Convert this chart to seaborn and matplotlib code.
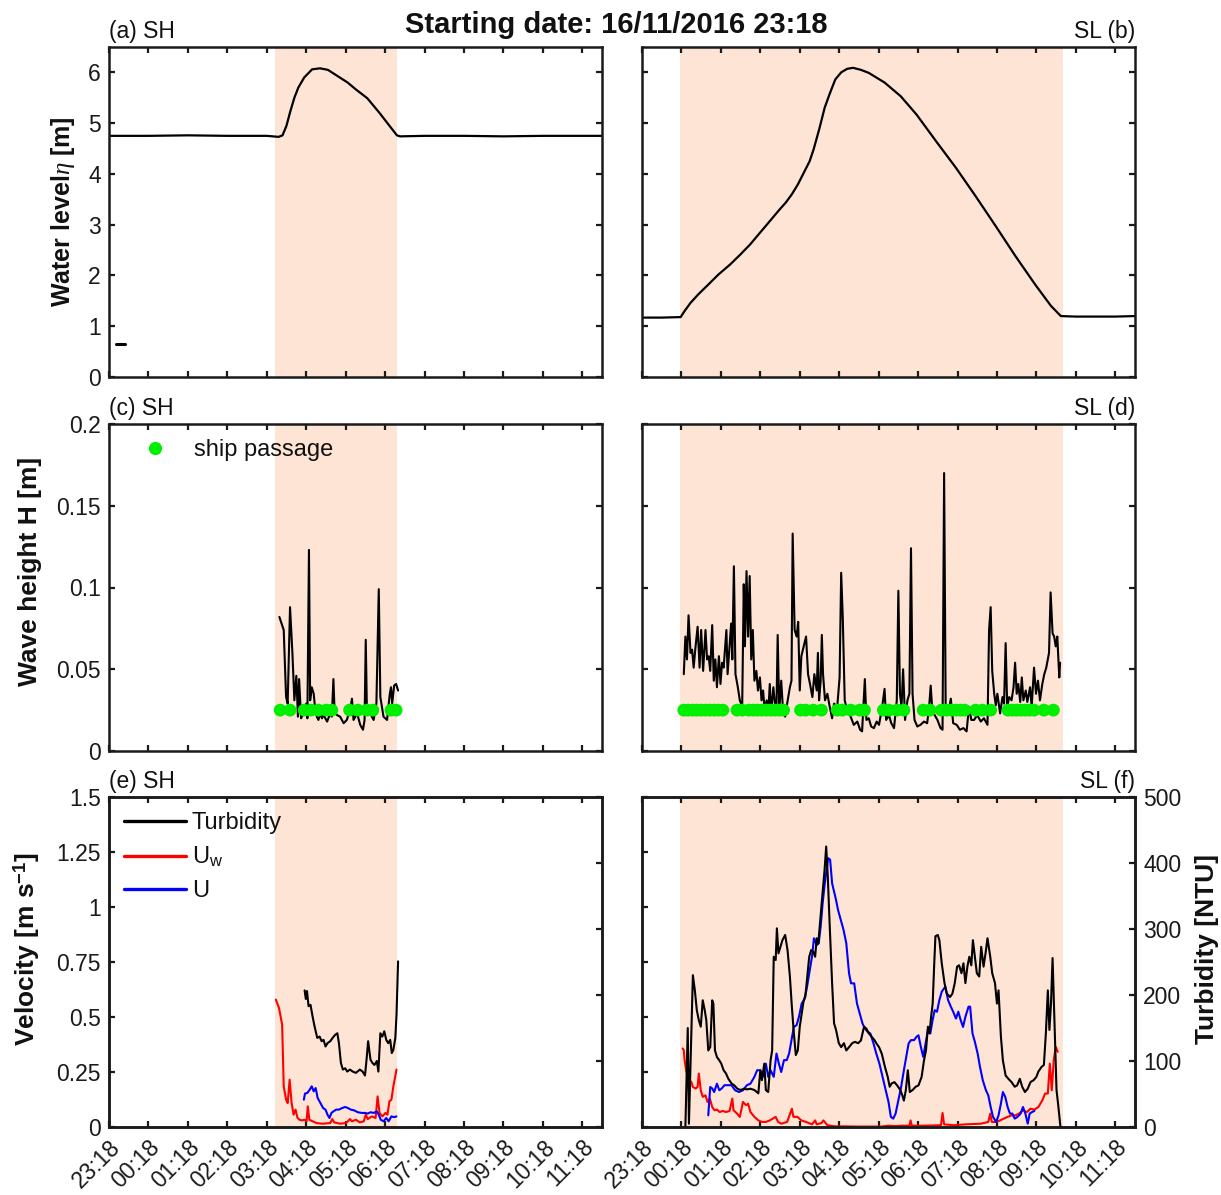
import matplotlib
matplotlib.use("Agg")
import matplotlib.pyplot as plt
from matplotlib.lines import Line2D
import numpy as np
import pandas as pd
import seaborn as sns

# ---------------------------------------------------------------------------
# Time axis: hours elapsed since 16/11/2016 23:18
# ---------------------------------------------------------------------------
hour_ticks = list(range(13))
hour_labels = ["23:18", "00:18", "01:18", "02:18", "03:18", "04:18", "05:18",
               "06:18", "07:18", "08:18", "09:18", "10:18", "11:18"]
t_end = 12.5

# flooding windows (shaded)
sh_window = [4.22, 7.31]
sl_window = [0.97, 10.68]

# ---------------------------------------------------------------------------
# (a) water level, SH
# ---------------------------------------------------------------------------
wl_sh_t = [0, 1, 2, 3, 4, 4.3, 4.4, 4.5, 4.6, 4.7, 4.8, 4.95, 5.15, 5.35, 5.55,
           5.85, 6.05, 6.25, 6.55, 6.85, 7.15, 7.3, 7.38, 8, 9, 10, 11, 12.5]
wl_sh = [4.75, 4.75, 4.76, 4.75, 4.75, 4.73, 4.76, 4.95, 5.24, 5.5, 5.7, 5.9,
         6.06, 6.08, 6.05, 5.9, 5.8, 5.67, 5.49, 5.21, 4.91, 4.76, 4.74, 4.75,
         4.75, 4.74, 4.75, 4.75]
dash_t = [0.18, 0.40]
dash_y = [0.645, 0.645]

# (b) water level, SL
wl_sl_t = [0, 0.5, 0.98, 1.08, 1.23, 1.43, 1.68, 1.94, 2.24, 2.49, 2.74, 2.99,
           3.24, 3.49, 3.65, 3.8, 3.95, 4.1, 4.25, 4.35, 4.5, 4.63, 4.75, 4.9,
           5.05, 5.2, 5.35, 5.55, 5.75, 6.15, 6.56, 6.96, 7.46, 7.96, 8.46,
           8.97, 9.47, 9.97, 10.37, 10.62, 11, 12, 12.5]
wl_sl = [1.17, 1.17, 1.18, 1.30, 1.46, 1.63, 1.82, 2.02, 2.22, 2.41, 2.61,
         2.84, 3.07, 3.30, 3.44, 3.60, 3.79, 4.02, 4.25, 4.48, 4.90, 5.30,
         5.56, 5.86, 6.00, 6.07, 6.09, 6.05, 5.99, 5.80, 5.53, 5.17, 4.64,
         4.12, 3.56, 2.97, 2.38, 1.82, 1.40, 1.20, 1.19, 1.19, 1.20]

# ---------------------------------------------------------------------------
# (c) wave height, SH
# ---------------------------------------------------------------------------
wh_sh_t = [4.32, 4.43, 4.49, 4.53, 4.59, 4.65, 4.70, 4.75, 4.79, 4.82, 4.87,
           4.93, 5.00, 5.03, 5.07, 5.10, 5.14, 5.19, 5.23, 5.27, 5.31, 5.36,
           5.40, 5.44, 5.53, 5.61, 5.65, 5.69, 5.72, 5.78, 5.86, 5.95, 6.03,
           6.12, 6.16, 6.20, 6.29, 6.37, 6.44, 6.48, 6.51, 6.54, 6.62, 6.71,
           6.78, 6.84, 6.88, 6.96, 7.05, 7.12, 7.15, 7.18, 7.23, 7.28, 7.33]
wh_sh = [0.082, 0.074, 0.033, 0.029, 0.088, 0.060, 0.031, 0.046, 0.021, 0.044,
         0.020, 0.023, 0.029, 0.020, 0.123, 0.031, 0.039, 0.035, 0.025, 0.021,
         0.019, 0.023, 0.020, 0.022, 0.018, 0.023, 0.021, 0.044, 0.024, 0.022,
         0.021, 0.017, 0.019, 0.026, 0.032, 0.019, 0.023, 0.016, 0.013, 0.019,
         0.068, 0.023, 0.023, 0.019, 0.029, 0.099, 0.033, 0.021, 0.019, 0.035,
         0.039, 0.029, 0.040, 0.041, 0.037]
ship_sh_t = [4.34, 4.59, 4.95, 5.12, 5.31, 5.51, 5.65, 6.10, 6.31, 6.54, 6.69,
             7.15, 7.28]

# (d) wave height, SL
wh_sl_t = [1.06, 1.10, 1.14, 1.18, 1.23, 1.27, 1.31, 1.35, 1.41, 1.46, 1.50,
           1.55, 1.61, 1.65, 1.69, 1.73, 1.78, 1.82, 1.86, 1.90, 1.95, 1.99,
           2.03, 2.07, 2.14, 2.17, 2.23, 2.26, 2.29, 2.33, 2.37, 2.43, 2.48,
           2.54, 2.58, 2.61, 2.65, 2.69, 2.73, 2.77, 2.81, 2.85, 2.90, 2.94,
           2.99, 3.03, 3.07, 3.11, 3.16, 3.20, 3.24, 3.27, 3.33, 3.37, 3.41,
           3.44, 3.48, 3.53, 3.58, 3.63, 3.68, 3.75, 3.79, 3.82, 3.87, 3.92,
           3.96, 4.00, 4.04, 4.10, 4.16, 4.21, 4.26, 4.32, 4.37, 4.43, 4.46,
           4.49, 4.53, 4.56, 4.59, 4.64, 4.70, 4.76, 4.82, 4.87, 4.95, 5.01,
           5.05, 5.09, 5.14, 5.20, 5.29, 5.37, 5.46, 5.53, 5.58, 5.65, 5.69,
           5.75, 5.81, 5.88, 5.95, 6.01, 6.09, 6.15, 6.19, 6.26, 6.32, 6.39,
           6.46, 6.50, 6.54, 6.58, 6.62, 6.67, 6.73, 6.78, 6.82, 6.86, 6.91,
           6.98, 7.06, 7.15, 7.23, 7.28, 7.32, 7.36, 7.42, 7.49, 7.57, 7.62,
           7.66, 7.70, 7.76, 7.83, 7.89, 7.98, 8.06, 8.15, 8.23, 8.29, 8.35,
           8.42, 8.50, 8.59, 8.67, 8.76, 8.80, 8.84, 8.88, 8.93, 8.97, 9.01,
           9.08, 9.14, 9.18, 9.22, 9.26, 9.31, 9.37, 9.42, 9.46, 9.50, 9.54,
           9.59, 9.63, 9.67, 9.73, 9.77, 9.84, 9.88, 9.94, 9.99, 10.04, 10.09,
           10.15, 10.20, 10.25, 10.28, 10.32, 10.36, 10.41, 10.45, 10.49,
           10.53, 10.58, 10.60]
wh_sl = [0.047, 0.070, 0.056, 0.083, 0.060, 0.062, 0.051, 0.062, 0.076, 0.051,
         0.074, 0.049, 0.074, 0.056, 0.058, 0.049, 0.077, 0.043, 0.056, 0.039,
         0.058, 0.041, 0.054, 0.051, 0.074, 0.047, 0.068, 0.078, 0.056, 0.113,
         0.047, 0.039, 0.031, 0.027, 0.102, 0.064, 0.110, 0.070, 0.107, 0.056,
         0.074, 0.043, 0.049, 0.037, 0.045, 0.031, 0.037, 0.025, 0.031, 0.023,
         0.041, 0.023, 0.039, 0.029, 0.027, 0.071, 0.025, 0.043, 0.023, 0.021,
         0.029, 0.039, 0.043, 0.133, 0.074, 0.070, 0.079, 0.037, 0.058, 0.064,
         0.070, 0.047, 0.041, 0.033, 0.047, 0.037, 0.060, 0.031, 0.043, 0.071,
         0.047, 0.031, 0.035, 0.027, 0.020, 0.029, 0.027, 0.045, 0.109, 0.082,
         0.031, 0.025, 0.021, 0.016, 0.018, 0.013, 0.012, 0.044, 0.019, 0.020,
         0.015, 0.014, 0.018, 0.016, 0.027, 0.038, 0.019, 0.022, 0.017, 0.014,
         0.031, 0.098, 0.035, 0.027, 0.050, 0.019, 0.031, 0.035, 0.124, 0.035,
         0.019, 0.015, 0.016, 0.018, 0.017, 0.027, 0.040, 0.025, 0.022, 0.019,
         0.014, 0.013, 0.170, 0.025, 0.022, 0.032, 0.017, 0.016, 0.013, 0.014,
         0.012, 0.027, 0.019, 0.019, 0.022, 0.018, 0.020, 0.016, 0.074, 0.088,
         0.049, 0.035, 0.028, 0.035, 0.023, 0.033, 0.029, 0.066, 0.027, 0.033,
         0.031, 0.039, 0.054, 0.035, 0.041, 0.030, 0.045, 0.031, 0.037, 0.030,
         0.039, 0.027, 0.051, 0.035, 0.043, 0.031, 0.041, 0.047, 0.051, 0.055,
         0.060, 0.097, 0.072, 0.070, 0.064, 0.070, 0.045, 0.054]
ship_sl_t = [1.06, 1.17, 1.28, 1.39, 1.50, 1.61, 1.72, 1.83, 1.94, 2.05,
             2.41, 2.54, 2.71, 2.82, 2.93, 3.04, 3.15, 3.26, 3.37, 3.48, 3.59,
             4.02, 4.15, 4.34, 4.55,
             4.95, 5.08, 5.29, 5.52, 5.64,
             6.12, 6.26, 6.47, 6.64,
             7.13, 7.30,
             7.59, 7.72, 7.84, 7.97, 8.08, 8.18,
             8.46, 8.63, 8.84,
             9.28, 9.39, 9.50, 9.61, 9.72, 9.83, 9.94, 10.19, 10.43]
ship_level = 0.025

# ---------------------------------------------------------------------------
# (e) velocities and turbidity, SH
# ---------------------------------------------------------------------------
turb_sh_t = [4.96, 4.99, 5.02, 5.06, 5.11, 5.16, 5.21, 5.28, 5.34, 5.39, 5.44,
             5.49, 5.54, 5.61, 5.67, 5.74, 5.79, 5.83, 5.88, 5.93, 5.99, 6.04,
             6.11, 6.18, 6.26, 6.36, 6.43, 6.49, 6.53, 6.57, 6.63, 6.68, 6.73,
             6.79, 6.83, 6.88, 6.93, 6.98, 7.03, 7.08, 7.13, 7.17, 7.21, 7.26,
             7.29, 7.33]
turb_sh = [207, 194, 206, 183, 185, 168, 153, 135, 137, 130, 132, 122, 127,
           130, 135, 140, 142, 127, 97, 87, 89, 84, 87, 84, 82, 87, 84, 78,
           102, 130, 102, 97, 94, 100, 84, 142, 137, 145, 132, 127, 132, 112,
           117, 135, 170, 251]
uw_sh_t = [4.23, 4.31, 4.39, 4.43, 4.49, 4.53, 4.58, 4.63, 4.68, 4.73, 4.78,
           4.83, 4.89, 4.96, 5.01, 5.04, 5.08, 5.16, 5.26, 5.41, 5.61, 5.66,
           5.71, 5.86, 6.01, 6.11, 6.16, 6.26, 6.36, 6.46, 6.51, 6.56, 6.66,
           6.76, 6.81, 6.86, 6.93, 7.01, 7.06, 7.11, 7.16, 7.21, 7.29]
uw_sh = [0.579, 0.541, 0.465, 0.185, 0.124, 0.109, 0.215, 0.109, 0.056, 0.079,
         0.041, 0.033, 0.030, 0.033, 0.026, 0.094, 0.033, 0.026, 0.018, 0.015,
         0.018, 0.036, 0.021, 0.015, 0.018, 0.036, 0.026, 0.033, 0.021, 0.026,
         0.056, 0.036, 0.048, 0.041, 0.139, 0.064, 0.048, 0.064, 0.056, 0.117,
         0.124, 0.185, 0.261]
u_sh_t = [4.94, 4.97, 5.03, 5.09, 5.14, 5.19, 5.24, 5.29, 5.36, 5.43, 5.49,
          5.54, 5.59, 5.64, 5.69, 5.76, 5.83, 5.91, 5.99, 6.06, 6.13, 6.21,
          6.31, 6.41, 6.49, 6.56, 6.63, 6.71, 6.79, 6.84, 6.89, 6.96, 7.03,
          7.09, 7.16, 7.23, 7.29]
u_sh = [0.124, 0.152, 0.155, 0.170, 0.185, 0.162, 0.177, 0.132, 0.109, 0.086,
        0.079, 0.056, 0.041, 0.064, 0.071, 0.079, 0.079, 0.086, 0.091, 0.086,
        0.079, 0.076, 0.067, 0.064, 0.064, 0.061, 0.067, 0.064, 0.071, 0.056,
        0.033, 0.026, 0.041, 0.026, 0.048, 0.045, 0.048]

# (f) velocities and turbidity, SL
turb_sl_t = [1.10, 1.16, 1.19, 1.29, 1.34, 1.39, 1.44, 1.49, 1.54, 1.59, 1.63,
             1.68, 1.73, 1.78, 1.81, 1.85, 1.90, 1.96, 2.01, 2.07, 2.13, 2.19,
             2.27, 2.34, 2.42, 2.50, 2.58, 2.66, 2.75, 2.85, 2.95, 3.00, 3.04,
             3.10, 3.14, 3.20, 3.26, 3.30, 3.34, 3.39, 3.42, 3.46, 3.51, 3.56,
             3.63, 3.69, 3.75, 3.80, 3.85, 3.90, 3.95, 4.00, 4.05, 4.10, 4.14,
             4.19, 4.24, 4.29, 4.34, 4.39, 4.43, 4.47, 4.52, 4.57, 4.63, 4.67,
             4.71, 4.76, 4.82, 4.87, 4.92, 4.99, 5.05, 5.12, 5.18, 5.25, 5.33,
             5.40, 5.48, 5.55, 5.63, 5.69, 5.75, 5.82, 5.89, 5.94, 6.01, 6.08,
             6.16, 6.23, 6.28, 6.33, 6.40, 6.47, 6.55, 6.60, 6.64, 6.69, 6.74,
             6.79, 6.86, 6.94, 7.01, 7.09, 7.15, 7.20, 7.25, 7.29, 7.33, 7.37,
             7.41, 7.44, 7.50, 7.54, 7.60, 7.67, 7.73, 7.81, 7.87, 7.93, 7.99,
             8.04, 8.10, 8.15, 8.20, 8.25, 8.30, 8.35, 8.39, 8.44, 8.49, 8.55,
             8.60, 8.66, 8.71, 8.76, 8.83, 8.88, 8.95, 9.00, 9.04, 9.10, 9.15,
             9.22, 9.29, 9.37, 9.45, 9.51, 9.58, 9.64, 9.71, 9.78, 9.85, 9.93,
             10.00, 10.05, 10.13, 10.19, 10.24, 10.29, 10.33, 10.37, 10.41,
             10.45, 10.51, 10.55, 10.61]
turb_sl = [0, 150, 5, 230, 207, 177, 162, 152, 192, 177, 162, 116, 121, 192,
           187, 116, 106, 101, 96, 86, 81, 73, 66, 63, 58, 56, 58, 57, 58, 56,
           51, 86, 71, 96, 56, 53, 101, 116, 258, 253, 301, 263, 273, 283, 291,
           268, 228, 182, 142, 109, 116, 152, 172, 192, 197, 228, 258, 268, 266,
           258, 286, 278, 314, 349, 390, 425, 380, 304, 218, 157, 147, 127, 121,
           127, 116, 121, 127, 129, 127, 131, 152, 149, 142, 137, 132, 127, 121,
           111, 91, 76, 61, 66, 68, 63, 56, 48, 40, 56, 86, 53, 56, 61, 63, 76,
           101, 116, 152, 142, 167, 187, 248, 289, 291, 283, 248, 218, 202, 197,
           202, 218, 243, 245, 233, 248, 218, 243, 258, 245, 283, 258, 233, 228,
           273, 243, 263, 286, 258, 233, 218, 187, 207, 137, 101, 78, 73, 68,
           61, 63, 73, 61, 53, 58, 68, 71, 76, 84, 91, 94, 142, 207, 147, 187,
           256, 177, 56, 35, 0]
u_sl_t = [1.68, 1.73, 1.78, 1.83, 1.90, 1.96, 2.02, 2.09, 2.17, 2.27, 2.36,
          2.46, 2.56, 2.66, 2.75, 2.85, 2.92, 3.00, 3.06, 3.14, 3.20, 3.26,
          3.34, 3.41, 3.47, 3.53, 3.60, 3.67, 3.73, 3.79, 3.85, 3.92, 3.98,
          4.05, 4.11, 4.17, 4.24, 4.31, 4.36, 4.43, 4.48, 4.53, 4.58, 4.63,
          4.68, 4.72, 4.77, 4.82, 4.87, 4.92, 4.97, 5.04, 5.11, 5.18, 5.25,
          5.30, 5.38, 5.45, 5.52, 5.59, 5.65, 5.72, 5.79, 5.87, 5.94, 6.02,
          6.10, 6.18, 6.25, 6.31, 6.37, 6.43, 6.50, 6.57, 6.64, 6.70, 6.76,
          6.82, 6.90, 6.96, 7.01, 7.07, 7.13, 7.19, 7.25, 7.31, 7.36, 7.42,
          7.48, 7.54, 7.60, 7.66, 7.69, 7.76, 7.83, 7.89, 7.96, 8.02, 8.08,
          8.14, 8.20, 8.28, 8.32, 8.38, 8.44, 8.51, 8.57, 8.64, 8.72, 8.78,
          8.84, 8.90, 8.98, 9.04, 9.10, 9.15, 9.21, 9.27, 9.33, 9.39, 9.45,
          9.52, 9.60, 9.66, 9.72, 9.78, 9.83, 9.89, 9.95]
u_sl = [0.053, 0.182, 0.175, 0.159, 0.197, 0.167, 0.175, 0.190, 0.190, 0.190,
        0.167, 0.159, 0.167, 0.190, 0.197, 0.228, 0.258, 0.258, 0.228, 0.288,
        0.228, 0.258, 0.228, 0.334, 0.288, 0.250, 0.304, 0.304, 0.334, 0.395,
        0.455, 0.463, 0.501, 0.562, 0.577, 0.622, 0.698, 0.774, 0.858, 0.827,
        0.835, 0.911, 1.017, 1.101, 1.169, 1.222, 1.215, 1.108, 1.070, 1.032,
        0.987, 0.941, 0.896, 0.835, 0.698, 0.653, 0.653, 0.562, 0.516, 0.471,
        0.448, 0.433, 0.425, 0.380, 0.334, 0.288, 0.228, 0.167, 0.114, 0.046,
        0.038, 0.061, 0.121, 0.182, 0.258, 0.319, 0.380, 0.395, 0.395, 0.410,
        0.417, 0.364, 0.319, 0.380, 0.440, 0.425, 0.478, 0.531, 0.524, 0.577,
        0.615, 0.630, 0.638, 0.577, 0.547, 0.524, 0.493, 0.524, 0.486, 0.455,
        0.501, 0.547, 0.547, 0.425, 0.387, 0.334, 0.273, 0.213, 0.167, 0.144,
        0.091, 0.046, 0.023, 0.053, 0.106, 0.159, 0.137, 0.091, 0.061, 0.061,
        0.038, 0.046, 0.061, 0.091, 0.061, 0.015, 0.061, 0.068, 0.073]
uw_sl_t = [1.03, 1.06, 1.08, 1.12, 1.18, 1.25, 1.29, 1.36, 1.41, 1.44, 1.49,
           1.54, 1.61, 1.66, 1.72, 1.78, 1.84, 1.90, 1.97, 2.05, 2.13, 2.22,
           2.29, 2.32, 2.41, 2.48, 2.56, 2.60, 2.64, 2.69, 2.75, 2.85, 2.95,
           3.04, 3.14, 3.24, 3.39, 3.45, 3.53, 3.68, 3.80, 3.84, 3.94, 4.04,
           4.16, 4.31, 4.39, 4.43, 4.55, 4.60, 4.70, 4.89, 5.09, 5.48, 6.06,
           6.25, 6.45, 6.60, 6.78, 6.81, 6.84, 7.13, 7.58, 7.62, 7.66, 7.91,
           8.20, 8.59, 8.78, 8.83, 8.87, 8.98, 9.08, 9.17, 9.27, 9.37, 9.47,
           9.56, 9.66, 9.76, 9.85, 9.95, 10.05, 10.15, 10.22, 10.29, 10.34,
           10.39, 10.44, 10.49, 10.54]
uw_sl = [0.357, 0.349, 0.304, 0.258, 0.213, 0.205, 0.182, 0.175, 0.182, 0.243,
         0.167, 0.137, 0.144, 0.114, 0.129, 0.091, 0.076, 0.079, 0.068, 0.073,
         0.068, 0.073, 0.129, 0.076, 0.061, 0.046, 0.114, 0.106, 0.099, 0.106,
         0.068, 0.046, 0.030, 0.023, 0.023, 0.030, 0.046, 0.023, 0.015, 0.023,
         0.083, 0.046, 0.046, 0.030, 0.023, 0.012, 0.030, 0.012, 0.018, 0.030,
         0.008, 0.003, 0.003, 0.002, 0.002, 0.006, 0.004, 0.006, 0.006, 0.030,
         0.006, 0.006, 0.008, 0.064, 0.012, 0.008, 0.012, 0.015, 0.023, 0.061,
         0.023, 0.023, 0.030, 0.038, 0.046, 0.053, 0.053, 0.061, 0.076, 0.068,
         0.083, 0.079, 0.091, 0.121, 0.152, 0.152, 0.288, 0.167, 0.304, 0.364,
         0.342]

# ---------------------------------------------------------------------------
# styling
# ---------------------------------------------------------------------------
sns.set_theme(style="ticks")
plt.rcParams["font.family"] = ["Liberation Sans", "DejaVu Sans"]
plt.rcParams.update({
    "mathtext.fontset": "custom",
    "mathtext.rm": "Liberation Sans",
    "mathtext.it": "Liberation Serif:italic",
    "mathtext.bf": "Liberation Sans:bold",
    "axes.edgecolor": "#1a1a1a",
    "axes.linewidth": 1.8,
    "xtick.color": "#1a1a1a",
    "ytick.color": "#1a1a1a",
    "text.color": "#111111",
    "axes.labelcolor": "#111111",
})

SHADE = "#fee4d4"
GREEN = "#00ee00"
FS_TICK = 16.5
FS_LEG = 17
FS_PANEL = 16.5
FS_LAB = 19

fig = plt.figure(figsize=(12.21, 11.95), dpi=100)
FW, FH = 1221.0, 1195.0
col_x = [109, 642]
col_w = 493
rows = [(47, 377), (424, 751), (797, 1127)]


def make_axes(col, row):
    top, bot = rows[row]
    return fig.add_axes([col_x[col] / FW, 1 - bot / FH, col_w / FW,
                         (bot - top) / FH])


def style_axes(ax, ylim, yticks, ylabels, xlabels, right=True):
    ax.set_xlim(0, t_end)
    ax.set_ylim(*ylim)
    ax.set_xticks(hour_ticks)
    ax.set_yticks(yticks)
    ax.tick_params(direction="in", length=4.5, width=1.6, top=True,
                   right=right, labelsize=FS_TICK, pad=6)
    if ylabels is None:
        ax.set_yticklabels([])
    else:
        ax.set_yticklabels(ylabels)
    if xlabels:
        ax.set_xticklabels(hour_labels, rotation=45, ha="right", va="top",
                           rotation_mode="anchor")
    else:
        ax.set_xticklabels([])
    ax.set_xlabel("")
    ax.set_ylabel("")
    for s in ax.spines.values():
        s.set_linewidth(1.8)


def panel_label(ax, text, side):
    if side == "left":
        ax.text(0.0, 1.012, text, transform=ax.transAxes, ha="left",
                va="bottom", fontsize=FS_PANEL)
    else:
        ax.text(1.0, 1.012, text, transform=ax.transAxes, ha="right",
                va="bottom", fontsize=FS_PANEL)


def line(ax, x, y, color, lw=1.5):
    sns.lineplot(x=x, y=y, ax=ax, color=color, linewidth=lw,
                 estimator=None, sort=False, legend=False)


# ----- row 1: water level -----
wl_ticks = [0, 1, 2, 3, 4, 5, 6]
ax_a = make_axes(0, 0)
ax_a.axvspan(*sh_window, color=SHADE, lw=0, zorder=0)
line(ax_a, wl_sh_t, wl_sh, "black", 1.6)
line(ax_a, dash_t, dash_y, "black", 2.2)
style_axes(ax_a, (0, 6.5), wl_ticks, [str(v) for v in wl_ticks], False)
ax_a.set_ylabel(r"Water level$\eta$ [m]", fontsize=18, fontweight="bold")
ax_a.yaxis.set_label_coords(-0.064, 0.5)
panel_label(ax_a, "(a) SH", "left")

ax_b = make_axes(1, 0)
ax_b.axvspan(*sl_window, color=SHADE, lw=0, zorder=0)
line(ax_b, wl_sl_t, wl_sl, "black", 1.6)
style_axes(ax_b, (0, 6.5), wl_ticks, None, False)
panel_label(ax_b, "SL (b)", "right")

# ----- row 2: wave height -----
wh_ticks = [0, 0.05, 0.1, 0.15, 0.2]
wh_labels = ["0", "0.05", "0.1", "0.15", "0.2"]
ax_c = make_axes(0, 1)
ax_c.axvspan(*sh_window, color=SHADE, lw=0, zorder=0)
line(ax_c, wh_sh_t, wh_sh, "black", 1.5)
sns.scatterplot(x=ship_sh_t, y=[ship_level] * len(ship_sh_t), ax=ax_c,
                color=GREEN, s=85, edgecolor="none", zorder=3, legend=False)
style_axes(ax_c, (0, 0.2), wh_ticks, wh_labels, False)
ax_c.set_ylabel("Wave height H [m]", fontsize=FS_LAB, fontweight="bold")
ax_c.yaxis.set_label_coords(-0.136, 0.548)
panel_label(ax_c, "(c) SH", "left")
ship_handle = Line2D([], [], marker="o", ls="", color=GREEN, markersize=9.5,
                     markeredgewidth=0)
ax_c.legend([ship_handle], ["ship passage"], loc="upper left",
            bbox_to_anchor=(0.0, 1.0), frameon=False, fontsize=FS_LEG,
            handlelength=2.6, handletextpad=0.35, borderaxespad=0.45,
            borderpad=0.2)

ax_d = make_axes(1, 1)
ax_d.axvspan(*sl_window, color=SHADE, lw=0, zorder=0)
line(ax_d, wh_sl_t, wh_sl, "black", 1.5)
sns.scatterplot(x=ship_sl_t, y=[ship_level] * len(ship_sl_t), ax=ax_d,
                color=GREEN, s=85, edgecolor="none", zorder=3, legend=False)
style_axes(ax_d, (0, 0.2), wh_ticks, None, False)
panel_label(ax_d, "SL (d)", "right")

# ----- row 3: velocity + turbidity -----
v_ticks = [0, 0.25, 0.5, 0.75, 1, 1.25, 1.5]
v_labels = ["0", "0.25", "0.5", "0.75", "1", "1.25", "1.5"]
n_ticks = [0, 100, 200, 300, 400, 500]
n_labels = [str(v) for v in n_ticks]


def velocity_panel(col, window, uw_t, uw, u_t, u, tb_t, tb, left_labels,
                   right_labels):
    ax = make_axes(col, 2)
    ax.axvspan(*window, color=SHADE, lw=0, zorder=0)
    line(ax, uw_t, uw, "red", 1.5)
    line(ax, u_t, u, "blue", 1.5)
    style_axes(ax, (0, 1.5), v_ticks, v_labels if left_labels else None,
               True, right=False)
    tw = ax.twinx()
    line(tw, tb_t, tb, "black", 1.5)
    tw.set_ylim(0, 500)
    tw.set_yticks(n_ticks)
    tw.set_yticklabels(n_labels if right_labels else [])
    tw.tick_params(direction="in", length=4.5, width=1.6,
                   labelsize=FS_TICK, pad=6)
    tw.set_ylabel("")
    for s in tw.spines.values():
        s.set_linewidth(1.8)
    return ax, tw


ax_e, tw_e = velocity_panel(0, sh_window, uw_sh_t, uw_sh, u_sh_t, u_sh,
                            turb_sh_t, turb_sh, True, False)
ax_e.set_ylabel(r"Velocity [m s$^{\mathbf{-1}}$]", fontsize=FS_LAB,
                fontweight="bold")
ax_e.yaxis.set_label_coords(-0.136, 0.54)
panel_label(ax_e, "(e) SH", "left")
handles = [Line2D([], [], color="black", lw=2.4),
           Line2D([], [], color="red", lw=2.4),
           Line2D([], [], color="blue", lw=2.4)]
tw_e.legend(handles, ["Turbidity", r"U$_\mathrm{w}$", "U"], loc="upper left",
            bbox_to_anchor=(0.0, 1.0), frameon=False, fontsize=FS_LEG,
            handlelength=2.6, handletextpad=0.25, labelspacing=0.45,
            borderaxespad=0.45, borderpad=0.2)

ax_f, tw_f = velocity_panel(1, sl_window, uw_sl_t, uw_sl, u_sl_t, u_sl,
                            turb_sl_t, turb_sl, False, True)
tw_f.set_ylabel("Turbidity [NTU]", fontsize=FS_LAB, fontweight="bold",
                rotation=90)
tw_f.yaxis.set_label_coords(1.122, 0.54)
panel_label(ax_f, "SL (f)", "right")

fig.text(616.5 / FW, 1 - 25 / FH, "Starting date: 16/11/2016 23:18",
         ha="center", va="center", fontsize=21, fontweight="bold")

fig.savefig("out.png", dpi=100)
